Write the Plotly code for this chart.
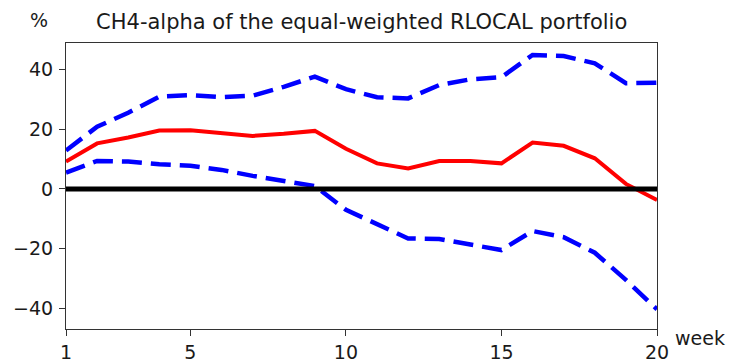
import plotly.graph_objects as go

weeks = list(range(1, 21))
alpha = [9.2, 15.3, 17.3, 19.6, 19.7, 18.7, 17.8, 18.5, 19.5, 13.5,
         8.6, 6.9, 9.4, 9.4, 8.6, 15.6, 14.5, 10.3, 1.7, -3.7]
upper = [12.9, 20.9, 25.6, 31.0, 31.5, 30.8, 31.3, 34.3, 37.7, 33.5,
         30.8, 30.4, 34.9, 36.8, 37.5, 45.0, 44.6, 42.2, 35.5, 35.7]
lower = [5.5, 9.4, 9.2, 8.3, 7.8, 6.4, 4.4, 2.8, 1.0, -7.0,
         -12.0, -16.6, -16.8, -18.8, -20.5, -14.1, -16.2, -21.4, -30.5, -40.4]
xticks = [1, 5, 10, 15, 20]
yticks = [-40, -20, 0, 20, 40]
title = "CH4-alpha of the equal-weighted RLOCAL portfolio"

W, H = 729, 362
ML, MR, MT, MB = 66, 72, 43, 33
PW, PH = W - ML - MR, H - MT - MB


def px_x(px):
    return (px - ML) / PW


def px_y(py):
    return (H - MB - py) / PH


font = "DejaVu Sans"
fig = go.Figure()
fig.add_trace(go.Scatter(x=weeks, y=upper, mode="lines",
                         line=dict(color="#0000ff", width=4.5, dash="20px,9px")))
fig.add_trace(go.Scatter(x=weeks, y=lower, mode="lines",
                         line=dict(color="#0000ff", width=4.5, dash="20px,9px")))
fig.add_trace(go.Scatter(x=weeks, y=alpha, mode="lines",
                         line=dict(color="#ff0000", width=4)))
fig.add_trace(go.Scatter(x=[weeks[0], weeks[-1]], y=[0, 0], mode="lines",
                         line=dict(color="#000000", width=5)))

fig.update_layout(
    width=W, height=H,
    margin=dict(l=ML, r=MR, t=MT, b=MB, autoexpand=False),
    paper_bgcolor="white", plot_bgcolor="white",
    showlegend=False,
    font=dict(family=font, size=19, color="#1a1a1a"),
    title=dict(text=title, x=(66.7 + 656.7) / 2 / W, xanchor="center",
               y=1 - 22 / H, yanchor="middle",
               font=dict(family=font, size=21, color="#1a1a1a")),
    xaxis=dict(range=[1, 20], tickvals=xticks, ticks="outside", ticklen=6,
               tickcolor="#333", showline=True, linecolor="#333", linewidth=1,
               mirror=True, showgrid=False, zeroline=False, automargin=False),
    yaxis=dict(range=[-47, 49], tickvals=yticks, ticks="outside", ticklen=6,
               tickcolor="#333", showline=True, linecolor="#333", linewidth=1,
               mirror=True, showgrid=False, zeroline=False, automargin=False,
               ticklabelstandoff=2),
    annotations=[
        dict(text="%", x=px_x(39), y=px_y(20), xref="paper", yref="paper",
             xanchor="center", yanchor="middle", showarrow=False,
             font=dict(family=font, size=19, color="#1a1a1a")),
        dict(text="week", x=px_x(673), y=px_y(338), xref="paper", yref="paper",
             xanchor="left", yanchor="middle", showarrow=False,
             font=dict(family=font, size=19, color="#1a1a1a")),
    ],
)
fig.write_html("out.html", config={"displayModeBar": False},
               post_script="document.body.style.margin='0';document.body.style.overflow='hidden';")
